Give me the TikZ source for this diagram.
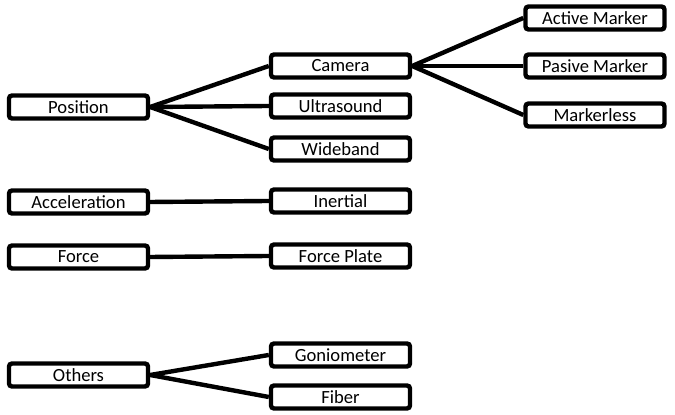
\documentclass[tikz,border=0pt]{standalone}
\usepackage{fontspec}
\setmainfont{Carlito}
\begin{document}
\begin{tikzpicture}
  [x=0.5pt,y=-0.5pt,
   box/.style={draw, line width=2.2pt, rounded corners=1.5pt,
    minimum width=69.5pt, minimum height=11.5pt, inner sep=0pt,
    font=\fontsize{9.3}{11}\selectfont},
   link/.style={line width=2.2pt}]
  \useasboundingbox (0,0) rectangle (675,415);
  % sensing quantities
  \node[box] (position) at (78.5,107) {Position};
  \node[box] (accel) at (78.5,202) {Acceleration};
  \node[box] (force) at (78.5,257) {Force};
  \node[box] (others) at (78.5,375) {Others};

  % technologies
  \node[box] (camera) at (340.5,66) {Camera};
  \node[box] (ultra) at (340.5,106) {Ultrasound};
  \node[box] (wide) at (340.5,149) {Wideband};
  \node[box] (inertial) at (340.5,201) {Inertial};
  \node[box] (plate) at (340.5,256) {Force Plate};
  \node[box] (gonio) at (340.5,355) {Goniometer};
  \node[box] (fiber) at (340.5,397) {Fiber};

  % camera types
  \node[box] (active) at (595,18) {Active Marker};
  \node[box] (pasive) at (595,66) {Pasive Marker};
  \node[box] (markerless) at (595,115) {Markerless};

  \foreach \a/\b in {position/camera, position/ultra, position/wide,
    accel/inertial, force/plate, others/gonio, others/fiber,
    camera/active, camera/pasive, camera/markerless}
    \draw[link] (\a.east) -- (\b.west);
\end{tikzpicture}
\end{document}
